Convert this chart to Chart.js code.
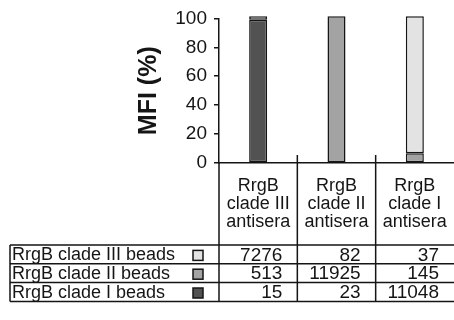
<!DOCTYPE html>
<html>
<head>
<meta charset="utf-8">
<script src="https://cdn.jsdelivr.net/npm/chart.js@4/dist/chart.umd.min.js"></script>
<style>
  html, body { margin: 0; padding: 0; background: #fff; overflow: hidden; }
</style>
</head>
<body>
<canvas id="ctx" width="454" height="320"></canvas>
<script>
"use strict";
// categories (one column per antiserum)
const antisera = [["RrgB", "clade III", "antisera"], ["RrgB", "clade II", "antisera"], ["RrgB", "clade I", "antisera"]];
// table rows, top to bottom
const beadNames = ["RrgB clade III beads", "RrgB clade II beads", "RrgB clade I beads"];
const beadColors = ["#e3e3e3", "#a3a3a3", "#525252"];
const mfiCladeIII = [7276, 82, 37];
const mfiCladeII = [513, 11925, 145];
const mfiCladeI = [15, 23, 11048];
// bar segments in % as drawn in the figure
const pctCladeI = [99.0, 0.3, null];
const pctCladeII = [null, 101.2, 6.7];
const pctCladeIII = [2.5, null, 94.8];
const yTicks = [0, 20, 40, 60, 80, 100];

const FONT = "'Liberation Sans', Arial, Helvetica, sans-serif";
const INK = "#151515";

const tablePlugin = {
  id: "mfiTable",
  afterDraw(chart) {
    const c = chart.ctx;
    const x = chart.scales.x;
    const area = chart.chartArea;
    const half = (x.getPixelForValue(1) - x.getPixelForValue(0)) / 2;
    const tableLeft = 10;
    const tableRight = chart.width;
    const rowTop = 245;
    const rowH = 18.8;
    const tableBottom = rowTop + rowH * 3;
    const rows = [mfiCladeIII, mfiCladeII, mfiCladeI];

    c.save();
    c.strokeStyle = INK;
    c.lineWidth = 1.5;
    c.beginPath();
    // y axis continues down through the table
    c.moveTo(area.left, area.bottom);
    c.lineTo(area.left, tableBottom);
    // column separators
    for (let i = 0; i < antisera.length - 1; i++) {
      const sx = x.getPixelForValue(i) + half;
      c.moveTo(sx, area.bottom - 8);
      c.lineTo(sx, tableBottom);
    }
    // row lines
    for (let r = 0; r <= rows.length; r++) {
      c.moveTo(tableLeft, rowTop + r * rowH);
      c.lineTo(tableRight, rowTop + r * rowH);
    }
    c.moveTo(tableLeft, rowTop);
    c.lineTo(tableLeft, tableBottom);
    c.stroke();

    c.fillStyle = INK;
    // column headers
    c.font = "18px " + FONT;
    c.textAlign = "center";
    c.textBaseline = "alphabetic";
    antisera.forEach((lines, i) => {
      const cx = x.getPixelForValue(i);
      lines.forEach((txt, k) => c.fillText(txt, cx, 191 + k * 18));
    });

    // rows
    rows.forEach((vals, r) => {
      const cy = rowTop + rowH * (r + 0.5) + 1;
      c.font = "18px " + FONT;
      c.textAlign = "left";
      c.textBaseline = "middle";
      c.fillStyle = INK;
      c.fillText(beadNames[r], 12, cy);
      c.fillStyle = beadColors[r];
      c.fillRect(193, cy - 5, 10, 10);
      c.strokeRect(193, cy - 5, 10, 10);
      c.fillStyle = INK;
      c.font = "19px " + FONT;
      c.textAlign = "right";
      vals.forEach((v, i) => {
        c.fillText(String(v), x.getPixelForValue(i) + half - 15, cy);
      });
    });
    c.restore();
  }
};

const barDefaults = { borderColor: INK, borderWidth: 1.5, borderSkipped: false, clip: false };

new Chart(document.getElementById("ctx").getContext("2d"), {
  type: "bar",
  data: {
    labels: antisera,
    datasets: [
      { label: beadNames[2], data: pctCladeI, backgroundColor: beadColors[2], ...barDefaults },
      { label: beadNames[1], data: pctCladeII, backgroundColor: beadColors[1], ...barDefaults },
      { label: beadNames[0], data: pctCladeIII, backgroundColor: beadColors[0], ...barDefaults }
    ]
  },
  options: {
    responsive: false,
    animation: false,
    barPercentage: 0.23,
    categoryPercentage: 1,
    layout: { padding: { left: 122, right: 0, top: 15, bottom: 157 } },
    plugins: { legend: { display: false }, tooltip: { enabled: false } },
    scales: {
      x: {
        stacked: true,
        ticks: { display: false },
        grid: { display: false },
        border: { color: INK, width: 1.5 },
        afterFit(s) { s.height = 0; }
      },
      y: {
        stacked: true,
        min: 0,
        max: 100,
        afterBuildTicks(s) { s.ticks = yTicks.map(v => ({ value: v })); },
        ticks: { color: INK, padding: 7, font: { family: FONT, size: 19 } },
        grid: { drawOnChartArea: false, tickLength: 5, color: INK, lineWidth: 1.5 },
        border: { color: INK, width: 1.5 },
        title: {
          display: true,
          text: "MFI (%)",
          color: INK,
          font: { family: FONT, size: 25, weight: "bold" },
          padding: { top: 12, bottom: 0 }
        },
        afterFit(s) { s.width = 97; }
      }
    }
  },
  plugins: [tablePlugin]
});
</script>
</body>
</html>
